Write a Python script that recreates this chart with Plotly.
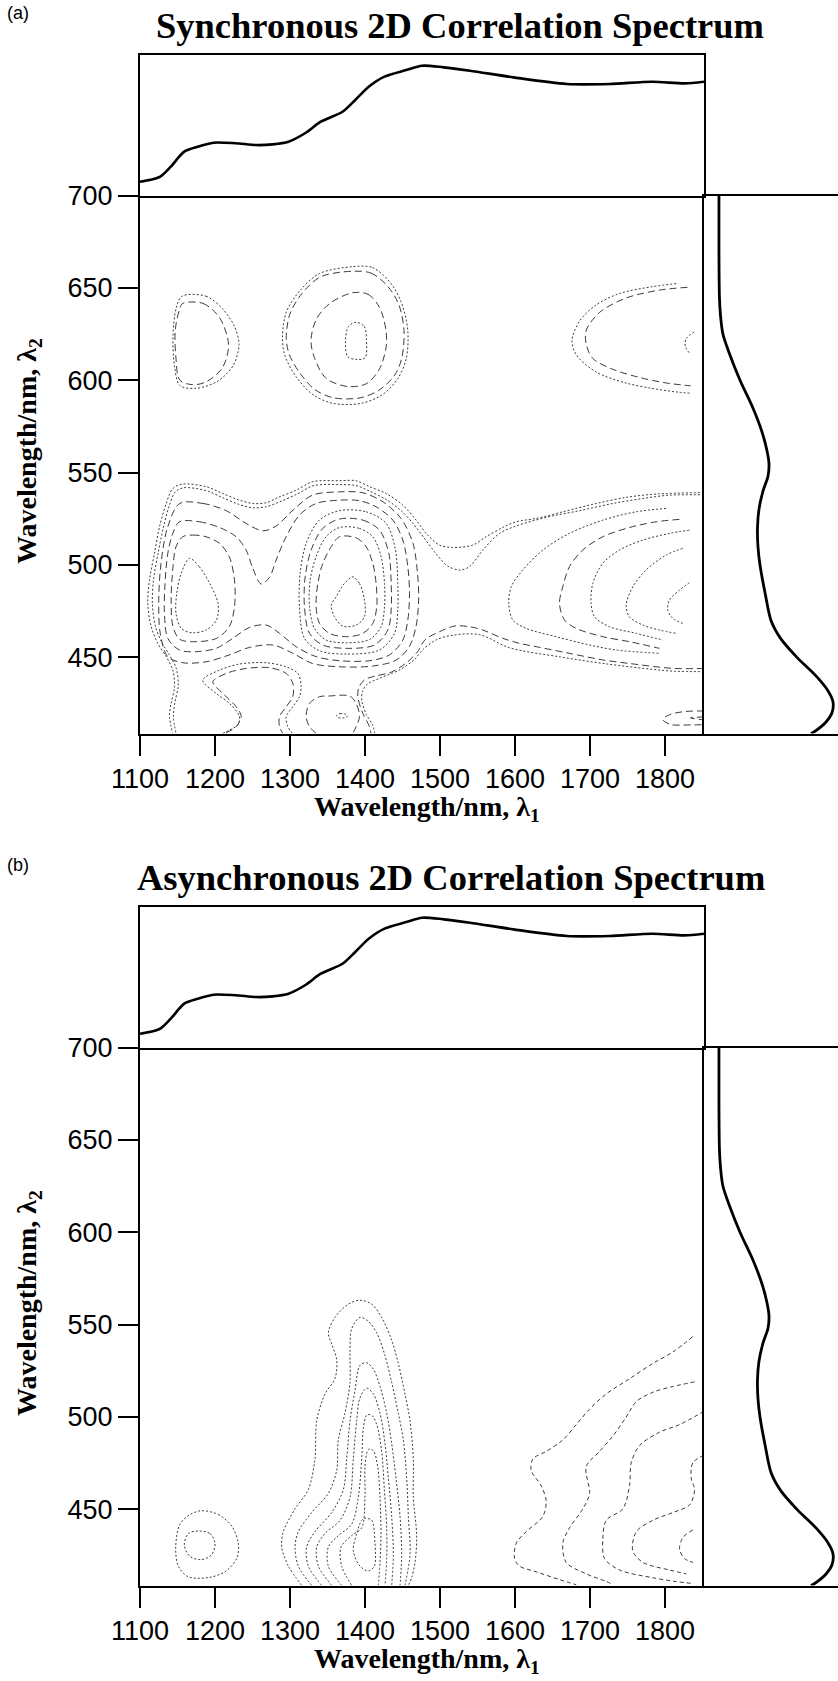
import plotly.graph_objects as go

FIG_W, FIG_H = 838, 1681

# ---------------- axes ----------------
X_TICKS = [1100, 1200, 1300, 1400, 1500, 1600, 1700, 1800]
Y_TICKS = [450, 500, 550, 600, 650, 700]
X_RANGE = [1100, 1852]
Y_RANGE = [408.8, 700]

# ---------------- 1D spectra ----------------
NIR_WL = [1100, 1114, 1127, 1141, 1159, 1177, 1198, 1227, 1255, 1277, 1298, 1320, 1341, 1370,
          1387, 1405, 1426, 1455, 1476, 1505, 1540, 1598, 1669, 1726, 1783, 1826, 1852]
NIR_ABS = [0.098, 0.112, 0.134, 0.205, 0.312, 0.347, 0.376, 0.372, 0.359, 0.364, 0.383, 0.443,
           0.525, 0.596, 0.680, 0.774, 0.846, 0.893, 0.924, 0.912, 0.888, 0.841, 0.794, 0.794,
           0.810, 0.798, 0.810]
VIS_WL = [700, 670, 645, 635, 625, 615, 600, 585, 572, 562, 555, 548, 540, 530, 520, 510, 500,
          485, 470, 460, 450, 440, 432, 426, 420, 415, 410, 408.8]
VIS_ABS = [0.005, 0.005, 0.009, 0.018, 0.038, 0.089, 0.181, 0.289, 0.365, 0.406, 0.423, 0.415,
           0.373, 0.339, 0.327, 0.331, 0.348, 0.390, 0.440, 0.523, 0.657, 0.816, 0.916, 0.958,
           0.950, 0.900, 0.808, 0.774]

# ---------------- synchronous contour lines (lambda1, lambda2) ----------------
S_A1 = [(1156, 645.5), (1188, 645.5), (1210, 638.7), (1226, 629.1), (1232, 619.4), (1224, 607.8),
        (1202, 599.1), (1173, 595.6), (1153, 597.2), (1146, 607.8), (1144, 623.3), (1148, 638.7), (1156, 645.5)]
S_A2 = [(1157, 641.6), (1184, 641.6), (1206, 633.9), (1218, 619.4), (1210, 606.9), (1188, 599.1),
        (1170, 597.6), (1153, 600.1), (1148, 611.7), (1147, 627.1), (1153, 638.7), (1157, 641.6)]
S_B1 = [(1384, 661.5), (1410, 661), (1433, 653.2), (1448, 642.6), (1457, 627.1), (1455, 611.7), (1444, 601.1),
        (1424, 592.4), (1395, 587.5), (1357, 587.5), (1330, 592.4), (1308, 602), (1293, 613.6), (1290, 623.3),
        (1295, 636.8), (1313, 648.4), (1339, 657.7), (1384, 661.5)]
S_B2 = [(1383, 659), (1408, 658), (1430, 651), (1445, 641), (1452, 627), (1449, 612), (1440, 603), (1420, 595),
        (1394, 590.5), (1358, 590.5), (1333, 595), (1313, 604), (1299, 614), (1295, 623), (1300, 636),
        (1316, 647), (1341, 656), (1383, 659)]
S_B3 = [(1384, 647.4), (1404, 646.5), (1419, 639.7), (1428, 627.1), (1428, 617.5), (1419, 605.9), (1402, 598.2),
        (1377, 596.6), (1348, 601.1), (1333, 611.7), (1328, 621.4), (1335, 632.9), (1353, 641.6), (1384, 647.4)]
S_B4 = [(1388, 631.4), (1399, 629.1), (1402, 621.4), (1400, 612.1), (1388, 611.3), (1377, 612.7), (1374, 621.4),
        (1378, 629.1), (1388, 631.4)]
S_C1 = [(1815, 652.3), (1784, 650.7), (1739, 646.9), (1708, 640.7), (1686, 632), (1676, 621.4), (1682, 613.6),
        (1708, 604.5), (1748, 598.5), (1784, 595.5), (1819, 593.5), (1835, 593)]
S_C2 = [(1830, 650.3), (1793, 648.8), (1748, 644.5), (1713, 636.8), (1695, 627.1), (1695, 619.4), (1704, 611.7),
        (1730, 606), (1766, 601.5), (1802, 598.5), (1834, 597)]
S_C3 = [(1839, 626.2), (1828, 622.3), (1827, 618.4), (1833, 614.5)]

S_S1 = [(1166, 503.6), (1179, 499.1), (1193, 490), (1204, 479.2), (1202, 470.2), (1188, 464.8), (1170, 463.3),
        (1155, 465.7), (1148, 473.8), (1149, 484.6), (1155, 495.5), (1166, 503.6)]
S_S2 = [(1157, 515.3), (1170, 516.2), (1188, 515.3), (1206, 511.7), (1219, 504.5), (1226, 491.8), (1226, 477.4),
        (1219, 466.6), (1202, 460.3), (1175, 458.5), (1153, 459.8), (1144, 466.6), (1141.5, 481), (1144, 499.1),
        (1148, 509.9), (1157, 515.3)]
S_P1 = [(1152.6, 523.4), (1179.3, 523.4), (1206, 520.3), (1228.2, 515.3), (1241.5, 508.1), (1250.4, 498.2),
        (1261.5, 489.7), (1272.6, 493.3), (1281.5, 502.7), (1294.9, 515.3), (1312.6, 527), (1334.8, 533.3),
        (1366, 535.1), (1392.6, 534.8), (1414.8, 531.5), (1437.1, 524.3), (1450.4, 513.5), (1457.1, 499.1),
        (1459.3, 484.6), (1457.1, 470.2), (1450.4, 459.4), (1432.6, 451.3), (1406, 448.2), (1366, 448.2),
        (1334.8, 450.4), (1308.2, 455.8), (1286, 463), (1268.2, 467.5), (1246, 466.2), (1223.7, 460.3),
        (1201.5, 454.9), (1174.9, 453.1), (1152.6, 454), (1137.1, 460.3), (1132.6, 473.8), (1133.1, 488.2),
        (1137.1, 506.3), (1143.7, 517.1), (1152.6, 523.4)]
S_P2 = [(1153, 533.3), (1184, 533.3), (1215, 529.4), (1241.5, 522.5), (1264, 518.5), (1281.5, 521.1),
        (1304, 529.7), (1330, 537.8), (1366, 539.6), (1397, 539.1), (1424, 534.2), (1448, 525.2), (1464, 511.7),
        (1470, 495.5), (1471.5, 481), (1468, 466.6), (1459, 455.8), (1441.5, 448.5), (1410, 445.3), (1366, 444.9),
        (1330, 446.7), (1304, 452.2), (1277, 456.7), (1246, 455.4), (1219, 451.3), (1188, 447.6), (1157, 447.1),
        (1137, 450.4), (1127, 463), (1125, 481), (1128, 500.9), (1137, 520.7), (1153, 533.3)]
S_R1 = [(1383.7, 493.6), (1392.6, 490), (1399.3, 481), (1399.3, 472), (1388.2, 467.5), (1370.4, 466.9),
        (1359.3, 472), (1354.9, 478.3), (1361.5, 482.8), (1372.6, 490), (1383.7, 493.6)]
S_R2 = [(1366, 515.3), (1388.2, 514.7), (1401.5, 509.9), (1410.4, 500.9), (1414.8, 490), (1415.7, 477.4),
        (1410.4, 468.4), (1397.1, 463), (1374.9, 461.2), (1352.6, 463), (1339.3, 468.4), (1334.8, 477.4),
        (1337.1, 490), (1343.7, 500.9), (1354.9, 509.9), (1366, 515.3)]
S_R3 = [(1366, 520.3), (1392.6, 519.8), (1410.4, 515.3), (1421.5, 504.5), (1426, 490), (1426, 477.4),
        (1421.5, 466.6), (1406, 459.7), (1374.9, 457.9), (1348.1, 459.4), (1332.6, 465.7), (1326, 477.4),
        (1326.9, 491.8), (1334.8, 504.5), (1348.1, 515.3), (1366, 520.3)]
S_R4 = [(1366, 524.9), (1397.1, 524.3), (1419.3, 518.9), (1431.8, 506.3), (1434.9, 490), (1434.9, 475.6),
        (1430.4, 464.8), (1412.6, 456.7), (1374.9, 454.9), (1343.7, 456.7), (1326, 463), (1319.3, 477.4),
        (1320.2, 493.6), (1328.2, 508.1), (1343.7, 519.8), (1366, 524.9)]
S_R5 = [(1366, 529.4), (1401.5, 528.8), (1428.2, 522.5), (1440.6, 508.1), (1443.7, 490), (1443.7, 475.6),
        (1439.3, 463), (1419.3, 454), (1374.9, 451.8), (1339.3, 453.6), (1319.3, 460.3), (1312.6, 477.4),
        (1313.5, 495.5), (1321.5, 511.7), (1339.3, 524.3), (1366, 529.4)]
S_L1 = [(1852, 539.2), (1788.2, 538.4), (1748.2, 536.6), (1708.2, 533.3), (1663.7, 528.8), (1628.2, 525.2),
        (1601.5, 523.4), (1583.7, 520.3), (1561.5, 515.3), (1543.7, 510.8), (1517.1, 509.5), (1499.3, 510.8),
        (1481.5, 517.1), (1468.2, 524.3), (1450.4, 532.4), (1428.2, 538.7), (1406, 542.4), (1388.2, 545.6),
        (1366, 545.6), (1330.4, 545.1), (1308.2, 540.5), (1286, 536.9), (1268.2, 533.7), (1250.4, 533.3),
        (1232.6, 535.1), (1210.4, 538.7), (1188.2, 542.4), (1157.1, 543.8), (1143.7, 541.4), (1134.9, 533.3),
        (1126, 520.7), (1119.3, 506.3), (1112.6, 491.8), (1110.4, 479.2), (1114.9, 466.6), (1123.7, 457.6),
        (1134.9, 450.4), (1143.7, 443.1), (1146, 434.1), (1141.5, 425.1), (1139.3, 417.9), (1143.7, 408.9)]
S_L2 = [(1852, 538), (1806, 537.8), (1770.4, 536), (1730.4, 533.3), (1686, 529.4), (1641.5, 525.8),
        (1601.5, 521.1), (1579.3, 517.1), (1557.1, 508.1), (1539.3, 499.1), (1526, 497.3), (1510, 499.5),
        (1495, 506), (1480, 514), (1465, 522), (1448, 529.5), (1428, 535.5), (1406, 540), (1388, 543),
        (1366, 543.5), (1332, 543), (1310, 538.5), (1288, 534.5), (1268, 531.5), (1250, 531), (1232, 532.8),
        (1210, 536.5), (1188, 540.3), (1158, 541.8), (1147, 539.5), (1139, 532), (1131, 520), (1124, 506),
        (1118, 492), (1116.5, 479), (1120.5, 467), (1128.5, 458.5), (1139, 451.5), (1148, 444.5), (1151, 435),
        (1146.5, 425.5), (1144.5, 418), (1148, 408.9)]
S_LE1 = [(1852, 444), (1812.6, 444), (1788.2, 444.9), (1752.6, 446.7), (1717.1, 448.6), (1672.6, 452.2),
         (1628.2, 455.8), (1606, 457.6), (1583.7, 460.3), (1557.1, 464.8), (1539.3, 466.6), (1520, 467),
         (1500, 464), (1480, 459.5), (1470, 453), (1455, 447), (1435, 442), (1415, 440), (1400, 438),
         (1392, 434), (1390.4, 428.7), (1397.1, 419.7), (1406, 412.5), (1408, 408.9)]
S_LE2 = [(1852, 442.3), (1812, 442.5), (1783.8, 443.5), (1721.6, 446.5), (1659.4, 450.3), (1592.7, 455.2),
         (1552.7, 462.3), (1517.1, 462), (1495, 459.5), (1478, 454.5), (1465, 448.5), (1445, 443), (1420, 438.8),
         (1403, 435.5), (1396.5, 431.5), (1396, 426), (1402, 419), (1410, 413.5), (1413, 408.9)]
S_RC1 = [(1801.5, 530.6), (1761.5, 528.8), (1717.1, 524.3), (1672.6, 517.1), (1637.1, 508.1), (1610.4, 497.3),
         (1594.9, 488.2), (1591.7, 479.2), (1597.1, 470.2), (1614.9, 465.7), (1654.9, 461.2), (1699.3, 456.7),
         (1734.9, 454), (1792.6, 452.2)]
S_RC2 = [(1819.3, 524.7), (1788.2, 523.4), (1752.6, 520.3), (1717.1, 515.3), (1690.4, 508.1), (1672.6, 499.1),
         (1663.7, 488.2), (1659.3, 479.2), (1666, 470.2), (1681.5, 465.7), (1717.1, 461.2), (1752.6, 458.5),
         (1792.6, 454.9)]
S_RC3 = [(1832.6, 518.9), (1806, 517.1), (1770.4, 513.5), (1739.3, 508.1), (1717.1, 500.9), (1703.7, 490),
         (1701.5, 479.2), (1706, 472), (1726, 466.6), (1761.5, 463), (1797.1, 459.4)]
S_RC4 = [(1823.7, 509), (1801.5, 505.4), (1774.8, 497.3), (1757.1, 488.2), (1748.2, 478.3), (1752.6, 472),
         (1770.4, 467.5), (1792.6, 464.8), (1814.8, 463)]
S_RC5 = [(1832.6, 490.4), (1819.3, 486.4), (1806, 481), (1803.7, 475.6), (1810.4, 471.1), (1823.7, 468.4)]
S_ARCH1 = [(1210.4, 408.9), (1219.3, 410.7), (1230.4, 413.4), (1232.6, 417.9), (1219.3, 425.1), (1201.5, 430.5),
           (1183.7, 437.7), (1206, 443.1), (1232.6, 446.4), (1268.2, 447.1), (1294.9, 444.9), (1310.4, 441.3),
           (1314.8, 435), (1312.6, 428.7), (1303.7, 423.3), (1294.9, 417.9), (1297.1, 412.5), (1301.5, 409.8),
           (1303, 408.9)]
S_ARCH2 = [(1214.9, 409.2), (1228.2, 412.5), (1234.9, 417.9), (1228.2, 423.3), (1210.4, 430.5), (1197.1, 436.8),
           (1214.9, 441.3), (1241.5, 444), (1272.6, 444.4), (1294.9, 441.3), (1303.7, 435.9), (1303.7, 428.7),
           (1294.9, 423.3), (1286, 417.9), (1286, 412.5), (1290.4, 408.9)]
S_BLOB = [(1334.8, 408.9), (1326, 412.5), (1321.5, 417.9), (1326, 425.1), (1339.3, 428.7), (1352.6, 429.1),
          (1379.3, 429.1), (1388.2, 425.1), (1392.6, 417.9), (1388.2, 412.5), (1383.7, 408.9)]
S_TINY = [(1362, 418.6), (1367, 419.6), (1374, 419.2), (1377, 418.2), (1371, 417.2), (1364, 417.5), (1362, 418.6)]
S_BR1 = [(1852, 421), (1824, 420.6), (1805, 418.8), (1797, 416.3), (1808, 413.6), (1824, 413.4), (1852, 413.6)]
S_BR2 = [(1852, 417.8), (1834, 417.2), (1852, 416.2)]

# ---------------- asynchronous contour lines (lambda1, lambda2) ----------------
A_K1 = [(1182.2, 449.3), (1204.4, 447.2), (1222.2, 441), (1231.1, 431.7), (1228.9, 423.4), (1213.3, 416.2),
        (1191.1, 413.1), (1164.4, 413.5), (1151.1, 419.3), (1147.6, 429.6), (1153.3, 442), (1166.7, 447.2),
        (1182.2, 449.3)]
A_K2 = [(1177.8, 438.3), (1193.3, 436.9), (1200, 431.7), (1195.6, 425.5), (1182.2, 422.8), (1166.7, 424.5),
        (1159.1, 430.7), (1164.4, 436.9), (1177.8, 438.3)]
A_G1 = [(1315.6, 408.9), (1297.8, 419.3), (1288.9, 429.6), (1291.1, 437.9), (1306.7, 450.3), (1324.4, 460.7),
        (1333.3, 477.3), (1335.6, 498), (1346.7, 512.5), (1360, 520.8), (1362.2, 531.1), (1355.6, 539.4),
        (1351.1, 545.6), (1360, 553.9), (1377.8, 561.1), (1393.3, 563.2), (1408.9, 561.1), (1422.2, 553.9),
        (1435.6, 541.5), (1444.4, 529), (1453.3, 512.5), (1460, 498), (1464.4, 477.3), (1464.4, 456.6),
        (1468.9, 435.8), (1466.7, 421.3), (1462.2, 413), (1457.8, 408.9)]
A_G2 = [(1328.9, 408.9), (1311.1, 419.3), (1306.7, 429.6), (1311.1, 437.9), (1328.9, 448.3), (1351.1, 458.7),
        (1362.2, 471.1), (1364.4, 487.6), (1373.3, 502.1), (1380, 518.7), (1380, 535.2), (1382.2, 547.7),
        (1393.3, 553.9), (1404.4, 551.8), (1415.6, 545.6), (1426.7, 533.2), (1435.6, 518.7), (1444.4, 502.1),
        (1451.1, 487.6), (1455.6, 466.9), (1457.8, 446.2), (1460, 425.5), (1453.3, 408.9)]
A_G3 = [(1342.2, 408.9), (1324.4, 419.3), (1322.2, 429.6), (1333.3, 437.9), (1355.6, 448.3), (1371.1, 460.7),
        (1375.6, 477.3), (1380, 498), (1386.7, 514.5), (1393.3, 528), (1402.2, 529.4), (1411.1, 525.9),
        (1420, 516.6), (1428.9, 502.1), (1435.6, 485.5), (1441.3, 466.9), (1446.7, 446.2), (1448.9, 425.5),
        (1446.7, 408.9)]
A_G4 = [(1355.6, 408.9), (1337.8, 419.3), (1335.6, 429.6), (1346.7, 436.9), (1366.7, 444.1), (1380, 456.6),
        (1384.4, 477.3), (1388.9, 498), (1393.3, 510.4), (1402.2, 515.6), (1411.1, 512.5), (1420, 502.1),
        (1426.7, 485.5), (1431.1, 466.9), (1435.6, 446.2), (1437.8, 425.5), (1435.6, 408.9)]
A_G5 = [(1368.9, 408.9), (1351.1, 419.3), (1351.1, 429.6), (1364.4, 435.8), (1382.2, 442), (1391.1, 456.6),
        (1395.6, 477.3), (1397.8, 493.8), (1402.2, 501), (1408.9, 501), (1415.6, 495.9), (1422.2, 481.4),
        (1425.8, 460.7), (1428.9, 440), (1428.9, 423.4), (1426.7, 408.9)]
A_G6 = [(1382.2, 408.9), (1368.9, 419.3), (1368, 429.6), (1382.2, 435.8), (1395.6, 440), (1400, 456.6),
        (1400, 473.1), (1404.4, 482.4), (1411.1, 481.8), (1416.9, 473.1), (1420, 456.6), (1421.3, 435.8),
        (1420, 421.3), (1417.8, 408.9)]
A_G7 = [(1400, 445.2), (1408.9, 444.1), (1413.3, 431.7), (1412.4, 419.3), (1404.4, 416.7), (1393.3, 419.3),
        (1384.4, 427.5), (1388.9, 436.9), (1395.6, 444.1), (1400, 445.2)]
A_H1 = [(1837.1, 543.5), (1810.5, 535.2), (1783.8, 529), (1752.7, 520.7), (1721.6, 512.5), (1699.3, 504.2),
        (1681.6, 495.9), (1663.8, 487.6), (1641.6, 481.4), (1623.8, 477.3), (1621.6, 471.1), (1634.9, 462.8),
        (1641.6, 454.5), (1637.1, 446.2), (1614.9, 437.9), (1601.6, 431.7), (1599.4, 423.4), (1606, 419.3),
        (1628.3, 416.2), (1659.4, 412), (1681.6, 409.2)]
A_H2 = [(1839.4, 519), (1810.5, 516.5), (1783.8, 513.4), (1761.6, 508.3), (1748.3, 500), (1730.5, 489.7),
        (1712.7, 481.4), (1694.9, 473.1), (1699.4, 458.6), (1690.5, 450.3), (1672.7, 440), (1663.8, 431.7),
        (1668.3, 421.3), (1694.9, 415.1), (1721.6, 411), (1730.5, 409.2)]
A_H3 = [(1852, 503.1), (1819.4, 495.9), (1792.7, 491.8), (1766, 484.5), (1754.9, 475.2), (1752.7, 462.8),
        (1743.8, 450.3), (1721.6, 444.1), (1717.1, 433.8), (1719.4, 423.4), (1739.4, 417.2), (1783.8, 413),
        (1815, 410.9), (1837.1, 409.9)]
A_H4 = [(1852, 479.4), (1837.1, 475.2), (1834.9, 466.9), (1839.4, 460.7), (1832.7, 452.4), (1810.5, 448.3),
        (1783.8, 444.1), (1761.6, 437.9), (1757.1, 427.5), (1770.5, 421.3), (1806, 417.2), (1828.3, 415.1)]
A_H5 = [(1837.1, 438.9), (1823.8, 434.7), (1819.4, 428.5), (1826, 423.4), (1837.1, 421.3)]

# ---------------- styling ----------------
DOT = "2px,2px"
DASH = "7px,4px"
SHORT = "4px,3px"
CONTOUR_COLOR = "#3c3c3c"

SYNC_LINES = [
    (S_A1, DOT), (S_A2, DASH), (S_B1, DOT), (S_B2, DASH), (S_B3, DASH), (S_B4, DOT),
    (S_C1, DOT), (S_C2, DASH), (S_C3, DOT),
    (S_L1, DOT), (S_L2, DOT), (S_P2, DASH), (S_P1, DASH), (S_S2, DASH), (S_S1, DOT),
    (S_R5, DOT), (S_R4, DASH), (S_R3, DOT), (S_R2, DASH), (S_R1, DOT),
    (S_LE1, DASH), (S_LE2, DOT),
    (S_RC1, DOT), (S_RC2, DASH), (S_RC3, DOT), (S_RC4, DOT), (S_RC5, DOT),
    (S_ARCH1, DOT), (S_ARCH2, DASH), (S_BLOB, DASH), (S_TINY, DOT), (S_BR1, DASH), (S_BR2, DASH),
]
ASYNC_LINES = [
    (A_K1, DOT), (A_K2, DOT),
    (A_G1, DOT), (A_G2, DOT), (A_G3, DOT), (A_G4, DOT), (A_G5, DOT), (A_G6, DOT), (A_G7, DOT),
    (A_H1, SHORT), (A_H2, SHORT), (A_H3, SHORT), (A_H4, SHORT), (A_H5, SHORT),
]


def py(p):
    return 1 - p / FIG_H


def px(p):
    return p / FIG_W


fig = go.Figure()

TICK_FONT = dict(family="Liberation Sans, Arial, sans-serif", size=27, color="black")
SERIF_B = "Liberation Serif, Times New Roman, serif"

panels = [
    dict(off=0, main=("x", "y"), top=("x2", "y2"), right=("x3", "y3"), lines=SYNC_LINES,
         title="Synchronous 2D Correlation Spectrum", title_x=460, tag="(a)"),
    dict(off=852, main=("x4", "y4"), top=("x5", "y5"), right=("x6", "y6"), lines=ASYNC_LINES,
         title="Asynchronous 2D Correlation Spectrum", title_x=451, tag="(b)"),
]

layout = dict(width=FIG_W, height=FIG_H,
              margin=dict(l=0, r=0, t=0, b=0, pad=0, autoexpand=False),
              paper_bgcolor="white", plot_bgcolor="rgba(0,0,0,0)", showlegend=False,
              annotations=[])

MAIN_X_DOM = [px(140), px(704)]
RIGHT_X_DOM = [px(704), 1.0]


def axname(a):
    return ("xaxis" if a[0] == "x" else "yaxis") + a[1:]


for p in panels:
    off = p["off"]
    mx, my = p["main"]
    tx, ty = p["top"]
    rx, ry = p["right"]
    main_dom = [py(733.5 + off), py(195.5 + off)]
    top_dom = [py(195.5 + off), py(55 + off)]

    layout[axname(mx)] = dict(domain=MAIN_X_DOM, range=X_RANGE, anchor=my, tickvals=X_TICKS,
                             ticks="outside", ticklen=20, tickwidth=1.6, tickcolor="black",
                             showline=True, linewidth=2.4, linecolor="black", mirror=False,
                             showgrid=False, zeroline=False, tickfont=TICK_FONT, automargin=False)
    layout[axname(my)] = dict(domain=main_dom, range=Y_RANGE, anchor=mx, tickvals=Y_TICKS,
                             ticks="outside", ticklen=20, tickwidth=1.6, tickcolor="black",
                             showline=True, linewidth=2, linecolor="black", mirror=False,
                             showgrid=False, zeroline=False, tickfont=TICK_FONT, automargin=False)
    layout[axname(tx)] = dict(domain=MAIN_X_DOM, range=X_RANGE, anchor=ty, showticklabels=False,
                             ticks="", showline=True, linewidth=2, linecolor="black", mirror=True,
                             showgrid=False, zeroline=False, automargin=False)
    layout[axname(ty)] = dict(domain=top_dom, range=[0, 1], anchor=tx, showticklabels=False,
                             ticks="", showline=True, linewidth=2, linecolor="black", mirror=True,
                             showgrid=False, zeroline=False, automargin=False)
    layout[axname(rx)] = dict(domain=RIGHT_X_DOM, range=[-0.12, 1.0], anchor=ry, showticklabels=False,
                             ticks="", showline=True, linewidth=1.6, linecolor="black", mirror=True,
                             showgrid=False, zeroline=False, automargin=False)
    layout[axname(ry)] = dict(domain=main_dom, range=Y_RANGE, anchor=rx, showticklabels=False,
                             ticks="", showline=True, linewidth=2, linecolor="black", mirror=False,
                             showgrid=False, zeroline=False, automargin=False)

    # contour lines
    for pts, dash in p["lines"]:
        fig.add_trace(go.Scatter(
            x=[q[0] for q in pts], y=[q[1] for q in pts], mode="lines",
            line=dict(color=CONTOUR_COLOR, width=1, dash=dash, shape="spline", smoothing=0.9),
            xaxis=mx, yaxis=my, hoverinfo="skip"))

    # 1D spectra
    fig.add_trace(go.Scatter(x=NIR_WL, y=NIR_ABS, mode="lines",
                             line=dict(color="black", width=2.6, shape="spline", smoothing=0.8),
                             xaxis=tx, yaxis=ty, hoverinfo="skip"))
    fig.add_trace(go.Scatter(x=VIS_ABS, y=VIS_WL, mode="lines",
                             line=dict(color="black", width=2.8, shape="spline", smoothing=0.8),
                             xaxis=rx, yaxis=ry, hoverinfo="skip"))

    # texts
    layout["annotations"] += [
        dict(text=p["tag"], x=px(18), y=py(13 + off), xref="paper", yref="paper",
             showarrow=False, xanchor="center", yanchor="middle",
             font=dict(family="Liberation Sans, Arial", size=18, color="black")),
        dict(text="<b>" + p["title"] + "</b>", x=px(p["title_x"]), y=py(26 + off),
             xref="paper", yref="paper", showarrow=False, xanchor="center", yanchor="middle",
             font=dict(family=SERIF_B, size=36.5, color="black")),
        dict(text="<b>Wavelength/nm, λ<sub>1</sub></b>", x=px(427), y=py(808 + off),
             xref="paper", yref="paper", showarrow=False, xanchor="center", yanchor="middle",
             font=dict(family=SERIF_B, size=28, color="black")),
        dict(text="<b>Wavelength/nm, λ<sub>2</sub></b>", x=px(28), y=py(451 + off),
             xref="paper", yref="paper", showarrow=False, xanchor="center", yanchor="middle",
             textangle=-90, font=dict(family=SERIF_B, size=28, color="black")),
    ]

fig.update_layout(**layout)
fig.write_html("out.html")
